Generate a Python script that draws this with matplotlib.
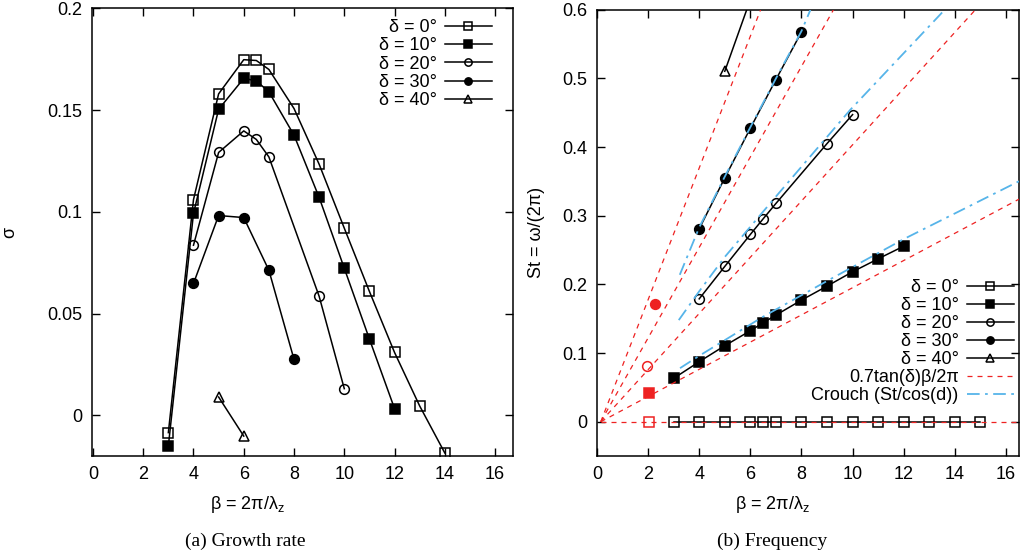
import numpy as np
import matplotlib
matplotlib.use("Agg")
import matplotlib.pyplot as plt
from matplotlib.ticker import FormatStrFormatter

plt.rcParams['font.family'] = ['Liberation Sans', 'DejaVu Sans']
plt.rcParams['mathtext.fontset'] = 'custom'
plt.rcParams['mathtext.rm'] = 'Liberation Sans'
plt.rcParams['font.size'] = 13

# (a) growth rate
beta0_a = [3, 4, 5, 6, 6.5, 7, 8, 9, 10, 11, 12, 13, 14]
sig0 = [-0.0085, 0.106, 0.158, 0.1748, 0.1744, 0.170, 0.1508, 0.1234, 0.092, 0.0609, 0.0309, 0.0046, -0.0185]
beta10_a = [3, 4, 5, 6, 6.5, 7, 8, 9, 10, 11, 12]
sig10 = [-0.0151, 0.0992, 0.1504, 0.1656, 0.1644, 0.159, 0.1377, 0.1071, 0.0723, 0.0375, 0.0033]
beta20_a = [4, 5, 6, 6.5, 7, 9, 10]
sig20 = [0.0836, 0.1292, 0.1398, 0.1356, 0.127, 0.0585, 0.0131]
beta30_a = [4, 5, 6, 7, 8]
sig30 = [0.0648, 0.0982, 0.0972, 0.0713, 0.0275]
beta40_a = [5, 6]
sig40 = [0.009, -0.0102]

# (b) frequency
beta0_b = [3, 4, 5, 6, 6.5, 7, 8, 9, 10, 11, 12, 13, 14, 15]
st0 = [0, 0, 0, 0, 0, 0, 0, 0, 0, 0, 0, 0, 0, 0]
beta10_b = [3, 4, 5, 6, 6.5, 7, 8, 9, 10, 11, 12]
st10 = [0.0631, 0.0874, 0.1107, 0.1325, 0.1441, 0.1553, 0.1771, 0.1975, 0.2184, 0.2373, 0.2557]
beta20_b = [4, 5, 6, 6.5, 7, 9, 10]
st20 = [0.179, 0.2262, 0.2728, 0.2955, 0.3179, 0.4052, 0.4474]
beta30_b = [4, 5, 6, 7, 8]
st30 = [0.281, 0.3552, 0.4275, 0.4984, 0.5677]
beta40_b = [5, 6]
st40 = [0.5105, 0.615]

# red single points (one per delta)
beta_red = [2.05, 2.03, 1.95, 2.29]
st_red = [0.0, 0.0425, 0.0815, 0.1718]

# 0.7tan(d)b/2pi lines, end points
red_beta_end = [16.6, 16.6, 14.8, 9.25, 6.4]
red_st_end = [0.0, 0.326, 0.6, 0.6, 0.6]
red_beta_start = 0.15

# Crouch curves
crouch10_beta = [3.25, 4, 6.5, 9, 12, 16.6]
crouch10_st = [0.078, 0.096, 0.153, 0.205, 0.266, 0.352]
crouch20_beta = [3.2, 4, 5, 7, 9.9, 13.6]
crouch20_st = [0.148, 0.19, 0.24, 0.328, 0.454, 0.6]
crouch30_beta = [3.24, 4, 5, 6, 7, 8, 8.35]
crouch30_st = [0.214, 0.283, 0.357, 0.429, 0.500, 0.569, 0.6]

labels = ['δ = 0°', 'δ = 10°', 'δ = 20°', 'δ = 30°', 'δ = 40°']
mk = ['s', 's', 'o', 'o', '^']
fill = ['none', 'k', 'none', 'k', 'none']
RED = '#ee2222'
BLUE = '#56b4e9'

fig = plt.figure(figsize=(10.28, 5.57), dpi=100)
ax1 = fig.add_axes([0.0892, 0.1813, 0.4095, 0.8036])
ax2 = fig.add_axes([0.5807, 0.1813, 0.4108, 0.8010])

data_a = [(beta0_a, sig0), (beta10_a, sig10), (beta20_a, sig20), (beta30_a, sig30), (beta40_a, sig40)]
data_b = [(beta0_b, st0), (beta10_b, st10), (beta20_b, st20), (beta30_b, st30), (beta40_b, st40)]

for i, (b, s) in enumerate(data_a):
    ax1.plot(b, s, color='k', lw=1.1, marker=mk[i], ms=7, mfc=fill[i], mec='k', mew=1.1, label=labels[i])

for i, (b, s) in enumerate(data_b):
    ax2.plot(b, s, color='k', lw=1.1, marker=mk[i], ms=7, mfc=fill[i], mec='k', mew=1.1, label=labels[i], zorder=2)

for i in range(4):
    ax2.plot(beta_red[i], st_red[i], marker=mk[i], ms=7, mfc=RED if fill[i] == 'k' else 'none',
             mec=RED, mew=1.1, ls='none', zorder=2)

for i in range(5):
    ax2.plot([red_beta_start, red_beta_end[i]], [0, red_st_end[i]], color=RED, lw=0.9,
             dashes=(4, 4), zorder=3, label='0.7tan(δ)β/2π' if i == 0 else None)

for j, (b, s) in enumerate([(crouch10_beta, crouch10_st), (crouch20_beta, crouch20_st), (crouch30_beta, crouch30_st)]):
    ax2.plot(b, s, color=BLUE, lw=1.3, dashes=(7, 3, 1.5, 3), zorder=4,
             label='Crouch (St/cos(d))' if j == 0 else None)

ax1.set_xlim(-0.05, 16.7)
ax1.set_ylim(-0.02, 0.2)
ax1.set_yticks([0, 0.05, 0.1, 0.15, 0.2])
ax2.set_xlim(0, 16.52)
ax2.set_ylim(-0.05, 0.6)
ax2.set_yticks([0, 0.1, 0.2, 0.3, 0.4, 0.5, 0.6])

for ax in (ax1, ax2):
    ax.set_xticks(range(0, 17, 2))
    ax.yaxis.set_major_formatter(FormatStrFormatter('%g'))
    ax.tick_params(direction='in', top=True, right=True, length=6, width=1, labelsize=13, pad=7)
    for sp in ax.spines.values():
        sp.set_linewidth(1.1)
    ax.set_xlabel(r'β = 2π/λ$_\mathregular{z}$', fontsize=13)

ax1.xaxis.set_label_coords(0.371, -0.085)
ax2.xaxis.set_label_coords(0.417, -0.085)
ax1.set_ylabel('σ', fontsize=13)
ax1.yaxis.set_label_coords(-0.175, 0.5)
ax2.set_ylabel('St = ω/(2π)', fontsize=13)
ax2.yaxis.set_label_coords(-0.123, 0.5)

ax1.legend(loc='upper right', bbox_to_anchor=(0.950, 0.976), markerfirst=False, frameon=False,
           handlelength=2.6, handletextpad=0.45, labelspacing=0.07, borderpad=0, borderaxespad=0,
           markerscale=0.75, fontsize=13)

h, l = ax2.get_legend_handles_labels()
ax2.legend(h, l, loc='upper right', bbox_to_anchor=(0.987, 0.397), markerfirst=False, frameon=False,
           handlelength=2.6, handletextpad=0.45, labelspacing=0.06, borderpad=0, borderaxespad=0,
           markerscale=0.75, fontsize=13)

fig.text(245 / 1028, 1 - 541 / 557, '(a) Growth rate', ha='center', va='center',
         family='Liberation Serif', fontsize=14)
fig.text(772 / 1028, 1 - 541 / 557, '(b) Frequency', ha='center', va='center',
         family='Liberation Serif', fontsize=14)

fig.savefig('out.png', dpi=100)
